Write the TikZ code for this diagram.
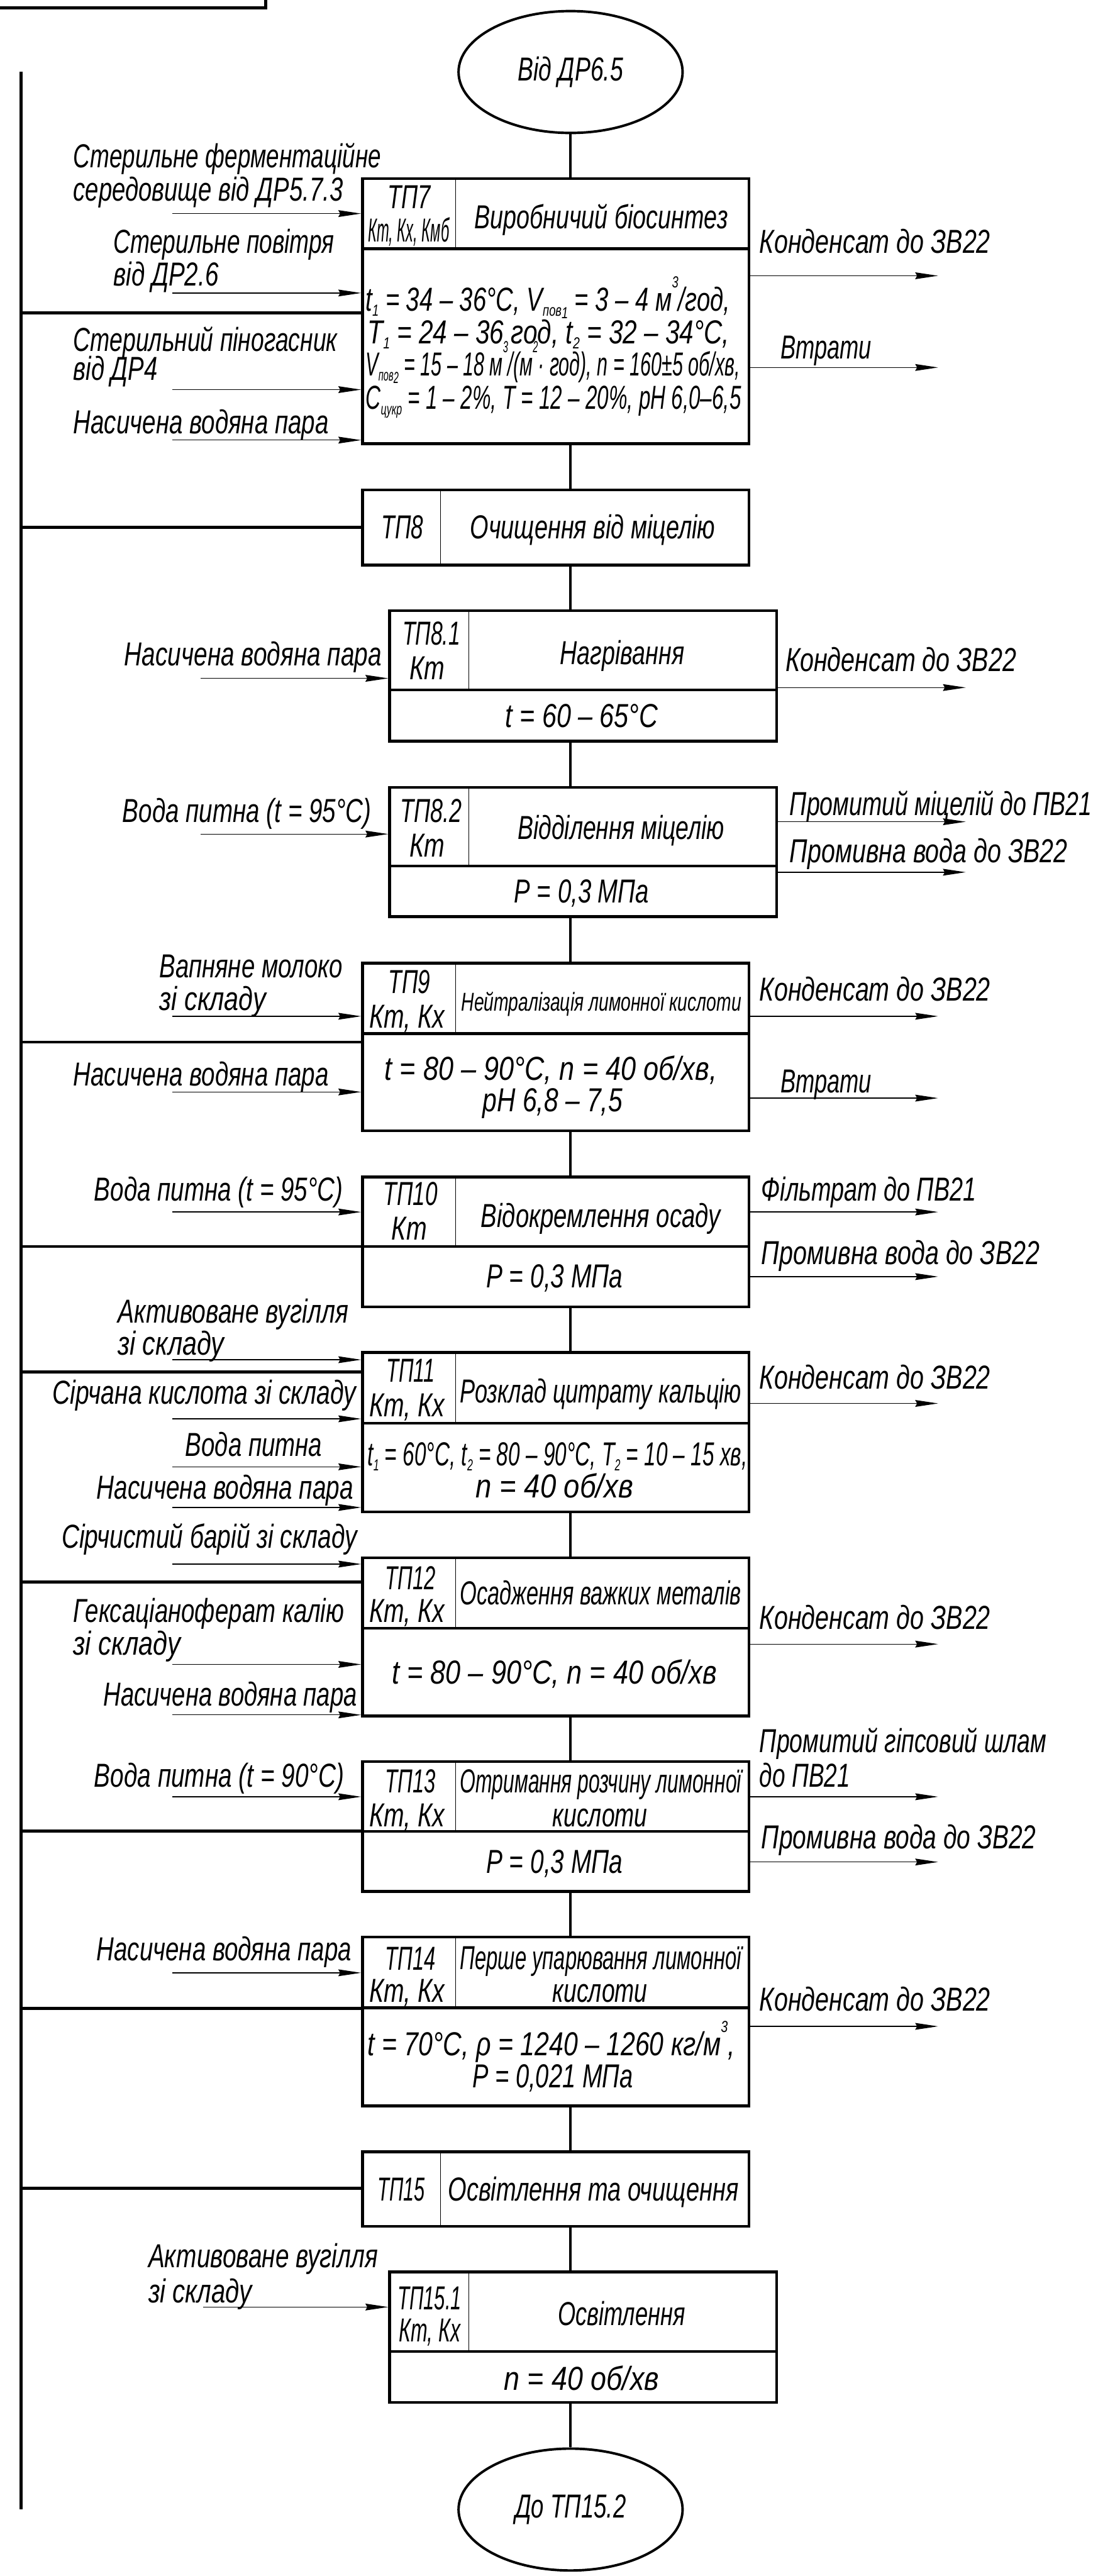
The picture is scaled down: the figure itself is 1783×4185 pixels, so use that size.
\documentclass[tikz,border=0pt]{standalone}
\usepackage{fontspec}
\setmainfont{Liberation Sans}
\usetikzlibrary{arrows.meta,shapes.geometric}
% text size and helpers
\newcommand\fsz{\fontsize{54}{64}\selectfont}
\newcommand\hw[2]{\resizebox{#1pt}{\height}{#2}}% squeeze text to a given width
\newcommand\sbx[1]{\raisebox{-0.3ex}{\fontsize{26}{26}\selectfont #1}}
\newcommand\spx[1]{\raisebox{1.3ex}{\fontsize{26}{26}\selectfont #1}}
\tikzset{
  busline/.style={line width=4.8pt},
  link/.style={line width=4pt},
  feed/.style={line width=1.4pt,-{Stealth[length=37pt,width=11pt,inset=3pt]}},
  proc/.style={draw,rectangle,line width=4.6pt,inner sep=0pt},
  term/.style={draw,ellipse,line width=4pt,inner sep=0pt,minimum width=364pt,minimum height=198pt,font=\fsz\itshape},
  sep/.style={line width=4.6pt},
  thin/.style={line width=1.4pt},
  txt/.style={inner sep=0pt,font=\fsz\itshape},
  lt/.style={txt,anchor=base west},
  ct/.style={txt,anchor=base},
}
\begin{document}
\begin{tikzpicture}[x=1pt,y=-1pt]
\useasboundingbox (0,0) rectangle (1783,4185);

% frame corner
\draw[busline] (0,13) -- (432,13) -- (432,0);

% terminals
\node[term] (src) at (927,117) {\hw{171}{Від ДР6.5}};
\node[term] (dst) at (927,4077) {\hw{180}{До ТП15.2}};

% process blocks
\node[proc,minimum width=628pt,minimum height=431pt] (b7) at (903,505.5) {};
\node[proc,minimum width=628pt,minimum height=122pt] (b8) at (903,857) {};
\node[proc,minimum width=629pt,minimum height=212pt] (b81) at (947.5,1098) {};
\node[proc,minimum width=629pt,minimum height=210pt] (b82) at (947.5,1384) {};
\node[proc,minimum width=628pt,minimum height=272pt] (b9) at (903,1701) {};
\node[proc,minimum width=628pt,minimum height=211pt] (b10) at (903,2017.5) {};
\node[proc,minimum width=628pt,minimum height=259pt] (b11) at (903,2326.5) {};
\node[proc,minimum width=628pt,minimum height=257pt] (b12) at (903,2659.5) {};
\node[proc,minimum width=628pt,minimum height=211pt] (b13) at (903,2967.5) {};
\node[proc,minimum width=628pt,minimum height=274pt] (b14) at (903,3284) {};
\node[proc,minimum width=628pt,minimum height=121pt] (b15) at (903,3556.5) {};
\node[proc,minimum width=629pt,minimum height=212pt] (b151) at (947.5,3797) {};

% block dividers
\foreach \y in {404,1679,2025,2312,2645,2975,3262} \draw[sep] (589,\y) -- (1217,\y);
\foreach \y in {1121,1407,3820} \draw[sep] (633,\y) -- (1262,\y);
\draw[thin] (740,290) -- (740,404);
\draw[thin] (716,796) -- (716,918);
\draw[thin] (762,992) -- (762,1121);
\draw[thin] (762,1279) -- (762,1407);
\draw[thin] (740,1565) -- (740,1679);
\draw[thin] (740,1912) -- (740,2025);
\draw[thin] (740,2197) -- (740,2312);
\draw[thin] (740,2531) -- (740,2645);
\draw[thin] (740,2862) -- (740,2975);
\draw[thin] (740,3147) -- (740,3262);
\draw[thin] (716,3496) -- (716,3617);
\draw[thin] (762,3691) -- (762,3820);

% main flow
\draw[link] (src.south) -- (src.south |- b7.north);
\draw[link] (src.south |- b7.south) -- (src.south |- b8.north);
\draw[link] (src.south |- b8.south) -- (src.south |- b81.north);
\draw[link] (src.south |- b81.south) -- (src.south |- b82.north);
\draw[link] (src.south |- b82.south) -- (src.south |- b9.north);
\draw[link] (src.south |- b9.south) -- (src.south |- b10.north);
\draw[link] (src.south |- b10.south) -- (src.south |- b11.north);
\draw[link] (src.south |- b11.south) -- (src.south |- b12.north);
\draw[link] (src.south |- b12.south) -- (src.south |- b13.north);
\draw[link] (src.south |- b13.south) -- (src.south |- b14.north);
\draw[link] (src.south |- b14.south) -- (src.south |- b15.north);
\draw[link] (src.south |- b15.south) -- (src.south |- b151.north);
\draw[link] (src.south |- b151.south) -- (dst.north);

% control bus on the left
\coordinate (bustop) at (34,116);
\coordinate (busbot) at (34,4077);
\draw[busline] (bustop) -- (busbot);
\foreach \y/\b in {508/b7,857/b8,1693/b9,2025/b10,2229/b11,2570/b12,2975/b13,3263/b14,3555/b15}{
  \coordinate (j\b) at (34,\y);
  \draw[busline] (j\b) -- (j\b -| \b.west);
}

% incoming streams
\foreach \x/\y/\b/\n in {280/347/b7/a,280/476/b7/b,280/633/b7/c,280/715/b7/d,
  326/1102/b81/a,326/1355/b82/a,280/1651/b9/a,280/1774/b9/b,280/1969/b10/a,
  280/2209/b11/a,280/2305/b11/b,280/2383/b11/c,280/2449/b11/d,
  280/2541/b12/a,280/2704/b12/b,280/2786/b12/c,280/2919/b13/a,280/3205/b14/a,
  330/3748/b151/a}{
  \coordinate (i\b\n) at (\x,\y);
  \draw[feed] (i\b\n) -- (i\b\n -| \b.west);
}

% outgoing streams
\foreach \x/\y/\b/\n in {1524/448/b7/a,1524/597/b7/b,1569/1117/b81/a,1569/1335/b82/a,
  1569/1417/b82/b,1524/1651/b9/a,1524/1784/b9/b,1524/1969/b10/a,1524/2074/b10/b,
  1524/2280/b11/a,1524/2671/b12/a,1524/2919/b13/a,1524/3025/b13/b,1524/3292/b14/a}{
  \coordinate (o\b\n) at (\x,\y);
  \draw[feed] (o\b\n -| \b.east) -- (o\b\n);
}

% block captions
\node[ct] (h7a) at (665,339) {\hw{70}{ТП7}};
\node[ct] (h7b) at (664,393) {\hw{132}{Кт, Кх, Кмб}};
\node[ct] (n7) at (977,371) {\hw{412}{Виробничий біосинтез}};
\node[lt] (p7a) at (594,505) {\hw{592}{t\sbx{1} = 34 – 36°С, V\sbx{пов\sbx{1}} = 3 – 4 м\spx{3}/год,}};
\node[lt] (p7b) at (597,558) {\hw{588}{T\sbx{1} = 24 – 36 год, t\sbx{2} = 32 – 34°С,}};
\node[lt] (p7c) at (594,610) {\hw{608}{V\sbx{пов\sbx{2}} = 15 – 18 м\spx{3}/(м\spx{2}· год), n = 160±5 об/хв,}};
\node[lt] (p7d) at (594,665) {\hw{610}{С\sbx{цукр} = 1 – 2\%, T = 12 – 20\%, pH 6,0–6,5}};

\node[ct] (h8) at (654,875) {\hw{68}{ТП8}};
\node[ct] (n8) at (963,875) {\hw{398}{Очищення від міцелію}};

\node[ct] (h81a) at (701,1048) {\hw{94}{ТП8.1}};
\node[ct] (h81b) at (694,1104) {\hw{57}{Кт}};
\node[ct] (n81) at (1011,1079) {\hw{202}{Нагрівання}};
\node[ct] (p81) at (945,1182) {\hw{248}{t = 60 – 65°С}};

\node[ct] (h82a) at (700,1336) {\hw{100}{ТП8.2}};
\node[ct] (h82b) at (694,1392) {\hw{57}{Кт}};
\node[ct] (n82) at (1009,1363) {\hw{336}{Відділення міцелію}};
\node[ct] (p82) at (945,1467) {\hw{219}{P = 0,3 МПа}};

\node[ct] (h9a) at (665,1614) {\hw{68}{ТП9}};
\node[ct] (h9b) at (661,1670) {\hw{122}{Кт, Кх}};
\node[ct] (n9) at (977,1642) {\hw{455}{\fontsize{42}{50}\selectfont Нейтралізація лимонної кислоти}};
\node[ct] (p9a) at (895,1755) {\hw{540}{t = 80 – 90°С, n = 40 об/хв,}};
\node[ct] (p9b) at (898,1806) {\hw{227}{pH 6,8 – 7,5}};

\node[ct] (h10a) at (667,1958) {\hw{88}{ТП10}};
\node[ct] (h10b) at (665,2014) {\hw{57}{Кт}};
\node[ct] (n10) at (976,1994) {\hw{389}{Відокремлення осаду}};
\node[ct] (p10) at (901,2092) {\hw{222}{P = 0,3 МПа}};

\node[ct] (h11a) at (667,2245) {\hw{79}{ТП11}};
\node[ct] (h11b) at (661,2301) {\hw{122}{Кт, Кх}};
\node[ct] (n11) at (976,2279) {\hw{457}{Розклад цитрату кальцію}};
\node[lt] (p11a) at (597,2381) {\hw{617}{t\sbx{1} = 60°С, t\sbx{2} = 80 – 90°С, T\sbx{2} = 10 – 15 хв,}};
\node[ct] (p11b) at (901,2433) {\hw{256}{n = 40 об/хв}};

\node[ct] (h12a) at (667,2582) {\hw{82}{ТП12}};
\node[ct] (h12b) at (661,2636) {\hw{122}{Кт, Кх}};
\node[ct] (n12) at (976,2607) {\hw{457}{Осадження важких металів}};
\node[ct] (p12) at (901,2736) {\hw{528}{t = 80 – 90°С, n = 40 об/хв}};

\node[ct] (h13a) at (667,2912) {\hw{82}{ТП13}};
\node[ct] (h13b) at (661,2968) {\hw{122}{Кт, Кх}};
\node[ct] (n13a) at (976,2912) {\hw{457}{Отримання розчину лимонної}};
\node[ct] (n13b) at (975,2968) {\hw{154}{кислоти}};
\node[ct] (p13) at (901,3043) {\hw{222}{P = 0,3 МПа}};

\node[ct] (h14a) at (667,3201) {\hw{82}{ТП14}};
\node[ct] (h14b) at (661,3253) {\hw{122}{Кт, Кх}};
\node[ct] (n14a) at (976,3200) {\hw{457}{Перше упарювання лимонної}};
\node[ct] (n14b) at (975,3253) {\hw{154}{кислоти}};
\node[lt] (p14a) at (597,3339) {\hw{597}{t = 70°С, ρ = 1240 – 1260 кг/м\spx{3},}};
\node[ct] (p14b) at (898,3392) {\hw{261}{P = 0,021 МПа}};

\node[ct] (h15) at (652,3575) {\hw{77}{ТП15}};
\node[ct] (n15) at (964,3575) {\hw{472}{Освітлення та очищення}};

\node[ct] (h151a) at (698,3752) {\hw{104}{ТП15.1}};
\node[ct] (h151b) at (698,3804) {\hw{100}{Кт, Кх}};
\node[ct] (n151) at (1010,3778) {\hw{207}{Освітлення}};
\node[ct] (p151) at (945,3883) {\hw{252}{n = 40 об/хв}};

% labels of incoming streams
\node[lt] (l1) at (119,272) {\hw{500}{Стерильне ферментаційне}};
\node[lt] (l2) at (119,326) {\hw{438}{середовище від ДР5.7.3}};
\node[lt] (l3) at (184,411) {\hw{359}{Стерильне повітря}};
\node[lt] (l4) at (184,464) {\hw{171}{від ДР2.6}};
\node[lt] (l5) at (119,571) {\hw{429}{Стерильний піногасник}};
\node[lt] (l6) at (119,618) {\hw{137}{від ДР4}};
\node[lt] (l7) at (119,704) {\hw{415}{Насичена водяна пара}};
\node[lt] (l8) at (202,1082) {\hw{418}{Насичена водяна пара}};
\node[lt] (l9) at (199,1336) {\hw{404}{Вода питна (t = 95°С)}};
\node[lt] (l10) at (259,1588) {\hw{298}{Вапняне молоко}};
\node[lt] (l11) at (259,1641) {\hw{173}{зі складу}};
\node[lt] (l12) at (119,1764) {\hw{415}{Насичена водяна пара}};
\node[lt] (l13) at (153,1951) {\hw{404}{Вода питна (t = 95°С)}};
\node[lt] (l14) at (191,2149) {\hw{375}{Активоване вугілля}};
\node[lt] (l15) at (191,2201) {\hw{173}{зі складу}};
\node[lt] (l16) at (85,2281) {\hw{493}{Сірчана кислота зі складу}};
\node[lt] (l17) at (301,2366) {\hw{222}{Вода питна}};
\node[lt] (l18) at (157,2435) {\hw{417}{Насичена водяна пара}};
\node[lt] (l19) at (100,2515) {\hw{480}{Сірчистий барій зі складу}};
\node[lt] (l20) at (119,2636) {\hw{440}{Гексаціаноферат калію}};
\node[lt] (l21) at (119,2689) {\hw{174}{зі складу}};
\node[lt] (l22) at (168,2771) {\hw{412}{Насичена водяна пара}};
\node[lt] (l23) at (153,2903) {\hw{406}{Вода питна (t = 90°С)}};
\node[lt] (l24) at (157,3185) {\hw{414}{Насичена водяна пара}};
\node[lt] (l25) at (241,3684) {\hw{373}{Активоване вугілля}};
\node[lt] (l26) at (241,3741) {\hw{168}{зі складу}};

% labels of outgoing streams
\node[lt] (r1) at (1234,411) {\hw{375}{Конденсат до ЗВ22}};
\node[lt] (r2) at (1268,583) {\hw{148}{Втрати}};
\node[lt] (r3) at (1276,1091) {\hw{375}{Конденсат до ЗВ22}};
\node[lt] (r4) at (1283,1325) {\hw{491}{Промитий міцелій до ПВ21}};
\node[lt] (r5) at (1283,1401) {\hw{451}{Промивна вода до ЗВ22}};
\node[lt] (r6) at (1234,1626) {\hw{375}{Конденсат до ЗВ22}};
\node[lt] (r7) at (1268,1775) {\hw{148}{Втрати}};
\node[lt] (r8) at (1237,1951) {\hw{349}{Фільтрат до ПВ21}};
\node[lt] (r9) at (1237,2054) {\hw{452}{Промивна вода до ЗВ22}};
\node[lt] (r10) at (1234,2256) {\hw{375}{Конденсат до ЗВ22}};
\node[lt] (r11) at (1234,2647) {\hw{375}{Конденсат до ЗВ22}};
\node[lt] (r12) at (1234,2847) {\hw{466}{Промитий гіпсовий шлам}};
\node[lt] (r13) at (1234,2903) {\hw{147}{до ПВ21}};
\node[lt] (r14) at (1237,3003) {\hw{446}{Промивна вода до ЗВ22}};
\node[lt] (r15) at (1234,3267) {\hw{375}{Конденсат до ЗВ22}};
\end{tikzpicture}
\end{document}
